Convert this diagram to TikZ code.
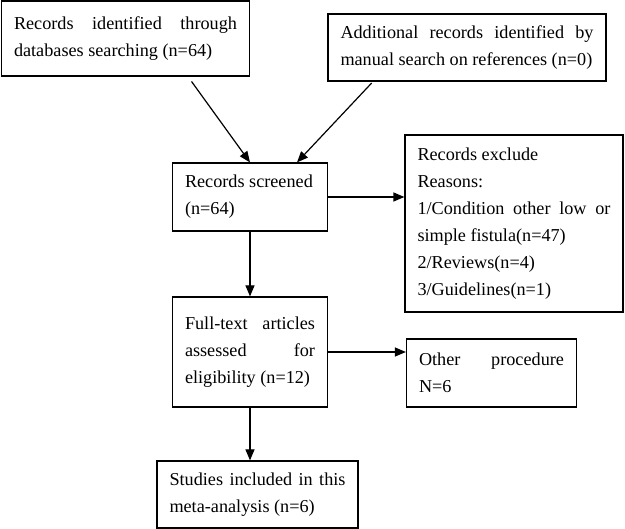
\documentclass[tikz,border=0pt]{standalone}
\usepackage{fontspec}
\setmainfont{Liberation Serif}
\usetikzlibrary{arrows.meta}
\begin{document}
\begin{tikzpicture}[x=1pt, y=-1pt, >={Triangle[length=11pt,width=9pt]},
    every node/.style={draw, line width=1.2pt, align=justify, inner xsep=12.5pt, inner ysep=4pt, font=\fontsize{18.2}{27}\selectfont}]
            \useasboundingbox (0,0) rectangle (625,529);
            \node[text width=223pt, minimum height=75pt] (A) at (125.5, 38.5) {Records identified through\linebreak databases searching (n=64)};
            \node[text width=253pt, minimum height=67pt] (B) at (467, 47.5) {Additional records identified by\linebreak manual search on references (n=0)};
            \node[text width=130pt, minimum height=68pt] (C) at (250, 197) {Records screened\\ (n=64)};
            \node[text width=193pt, minimum height=177pt] (D) at (514, 223.5) {Records exclude\\ Reasons:\\ 1/Condition other low or\linebreak simple fistula(n=47)\\ 2/Reviews(n=4)\\ 3/Guidelines(n=1)}; % Excluidos
            \node[text width=130pt, minimum height=110pt] (E) at (250, 352) {Full-text articles\linebreak assessed for\linebreak eligibility (n=12)};
            \node[text width=145pt, minimum height=68pt] (F) at (491.5, 373) {Other procedure\linebreak N=6};
            \node[text width=176pt, minimum height=67pt] (G) at (257.5, 494.5) {Studies included in this\linebreak meta-analysis (n=6)};

            \draw[->, line width=1.2pt, shorten <=6pt] ([xshift=62.5pt]A.south) -- (C.north);
            \draw[->, line width=1.2pt, shorten <=2pt] ([xshift=-94pt]B.south) -- ([xshift=47pt]C.north);
            \draw[->, line width=1.2pt] (C.east) -- (C.east -| D.west);
            \draw[->, line width=1.2pt] (C.south) -- (E.north);
            \draw[->, line width=1.2pt] (E.east) -- (E.east -| F.west);
            \draw[->, line width=1.2pt] (E.south) -- (E.south |- G.north); % Incluidos
        \end{tikzpicture}
\end{document}
